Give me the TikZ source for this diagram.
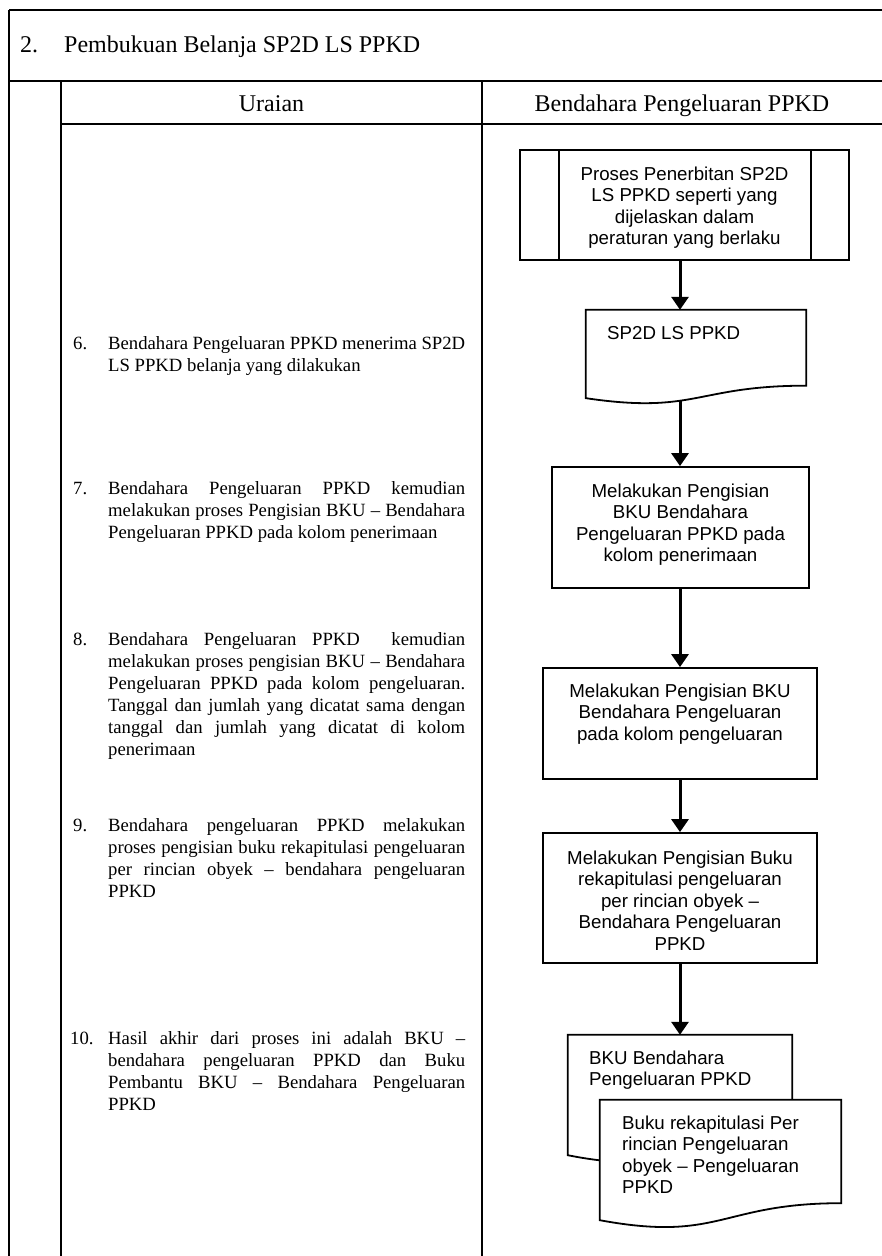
\documentclass[tikz,border=0pt]{standalone}
\usepackage{fontspec}
\setmainfont{Liberation Serif}
\newfontfamily\flowfont[Ligatures=TeX]{Liberation Sans}
\usetikzlibrary{arrows.meta,calc}

% one justified line of the description column
\newcommand\jline[1]{\makebox[357pt][s]{#1}}
% flowchart "document" symbol drawn around a named node
\newcommand\docshape[1]{%
  \filldraw[flowline] (#1.north west) -- (#1.north east)
    -- ($(#1.north east)!0.802!(#1.south east)$)
    .. controls ($(#1.north)!0.802!(#1.south)$) and ($(#1.north)!1.107!(#1.south)$)
    .. ($(#1.north west)!0.934!(#1.south west)$) -- cycle;}

\tikzset{
  rule/.style={line width=1.8pt},
  flowline/.style={draw=black, line width=1.8pt, fill=white},
  flowbox/.style={flowline, inner sep=0pt},
  docbox/.style={inner sep=0pt, draw=none},
  % multi-line nodes are placed by the baseline of their last line
  flowtext/.style={font=\flowfont\fontsize{18.7}{21.5}\selectfont, align=center, inner sep=0pt, anchor=base},
  doctext/.style={font=\flowfont\fontsize{18.7}{21.5}\selectfont, align=left, inner sep=0pt, anchor=base west},
  flowarrow/.style={line width=3pt, -{Triangle[width=17pt,length=13pt]}},
  bodytext/.style={font=\fontsize{18.7}{22}\selectfont, align=left, inner sep=0pt, anchor=base west},
  headtext/.style={font=\fontsize{24}{28}\selectfont, inner sep=0pt, anchor=base},
}

\begin{document}
\begin{tikzpicture}[x=1pt,y=-1pt]
\useasboundingbox (0,0) rectangle (882,1256);
\fill[white] (0,0) rectangle (882,1256);

% table rules
\draw[rule] (9,10) -- (882,10);
\draw[rule] (9,81) -- (882,81);
\draw[rule] (61,124) -- (882,124);
\draw[rule] (9,10) -- (9,1256);
\draw[rule] (61,81) -- (61,1256);
\draw[rule] (482,81) -- (482,1256);

% title and column headers
\node[headtext, anchor=base west] (num) at (20,52) {2.};
\node[headtext, anchor=base west] (title) at (64,52) {Pembukuan Belanja SP2D LS PPKD};
\node[headtext] (h1) at (271.5,111) {Uraian};
\node[headtext] (h2) at (682,111) {Bendahara Pengeluaran PPKD};

% description column
\node[bodytext] (n6) at (73,349) {6.};
\node[bodytext] (u6) at (108,371) {\jline{Bendahara Pengeluaran PPKD menerima SP2D}\\
LS PPKD belanja yang dilakukan};

\node[bodytext] (n7) at (73,494) {7.};
\node[bodytext] (u7) at (108,538) {\jline{Bendahara Pengeluaran PPKD kemudian}\\
\jline{melakukan proses Pengisian BKU – Bendahara}\\
Pengeluaran PPKD pada kolom penerimaan};

\node[bodytext] (n8) at (73,645) {8.};
\node[bodytext] (u8) at (108,755) {\jline{Bendahara Pengeluaran PPKD\ \ kemudian}\\
\jline{melakukan proses pengisian BKU – Bendahara}\\
\jline{Pengeluaran PPKD pada kolom pengeluaran.}\\
\jline{Tanggal dan jumlah yang dicatat sama dengan}\\
\jline{tanggal dan jumlah yang dicatat di kolom}\\
penerimaan};

\node[bodytext] (n9) at (73,831) {9.};
\node[bodytext] (u9) at (108,897) {\jline{Bendahara pengeluaran PPKD melakukan}\\
\jline{proses pengisian buku rekapitulasi pengeluaran}\\
\jline{per rincian obyek – bendahara pengeluaran}\\
PPKD};

\node[bodytext] (n10) at (70,1044) {10.};
\node[bodytext] (u10) at (108,1110) {\jline{Hasil akhir dari proses ini adalah BKU –}\\
\jline{bendahara pengeluaran PPKD dan Buku}\\
\jline{Pembantu BKU – Bendahara Pengeluaran}\\
PPKD};

% flowchart column
\coordinate (ax) at (680,0);

\node[flowbox, minimum width=329pt, minimum height=110pt] (b1) at (684.5,205) {};
\draw[rule] ($(b1.north west)+(40,0)$) -- ($(b1.south west)+(40,0)$);
\draw[rule] ($(b1.north east)+(-39,0)$) -- ($(b1.south east)+(-39,0)$);
\node[flowtext] (t1) at (684.5,244.5) {Proses Penerbitan SP2D\\LS PPKD seperti yang\\dijelaskan dalam\\peraturan yang berlaku};

\node[docbox, minimum width=220pt, minimum height=94.2pt] (d1) at (696,357.1) {};
\docshape{d1}
\node[doctext] (t2) at (607,339) {SP2D LS PPKD};
\coordinate (d1out) at (680,400);

\node[flowbox, minimum width=257pt, minimum height=121pt] (b4) at (680.5,527.5) {};
\node[flowtext] (t4) at (680.5,561.5) {Melakukan Pengisian\\BKU Bendahara\\Pengeluaran PPKD pada\\kolom penerimaan};

\node[flowbox, minimum width=274pt, minimum height=111pt] (b6) at (680,723.5) {};
\node[flowtext] (t6) at (680,740) {Melakukan Pengisian BKU\\Bendahara Pengeluaran\\pada kolom pengeluaran};

\node[flowbox, minimum width=274pt, minimum height=130pt] (b8) at (680,898) {};
\node[flowtext] (t8) at (680,950) {Melakukan Pengisian Buku\\rekapitulasi pengeluaran\\per rincian obyek –\\Bendahara Pengeluaran\\PPKD};

\node[docbox, minimum width=224pt, minimum height=128.5pt] (d2) at (680,1099.25) {};
\docshape{d2}
\node[doctext] (t9) at (589,1085.5) {BKU Bendahara\\Pengeluaran PPKD};

\node[docbox, minimum width=241pt, minimum height=128.5pt] (d3) at (720.5,1164.25) {};
\docshape{d3}
\node[doctext] (t10) at (622,1193.5) {Buku rekapitulasi Per\\rincian Pengeluaran\\obyek – Pengeluaran\\PPKD};

% connectors
\draw[flowarrow] (b1.south -| ax) -- (d1.north -| ax);
\draw[flowarrow] (d1out) -- (b4.north -| ax);
\draw[flowarrow] (b4.south -| ax) -- (b6.north -| ax);
\draw[flowarrow] (b6.south -| ax) -- (b8.north -| ax);
\draw[flowarrow] (b8.south -| ax) -- (d2.north -| ax);
\end{tikzpicture}
\end{document}
